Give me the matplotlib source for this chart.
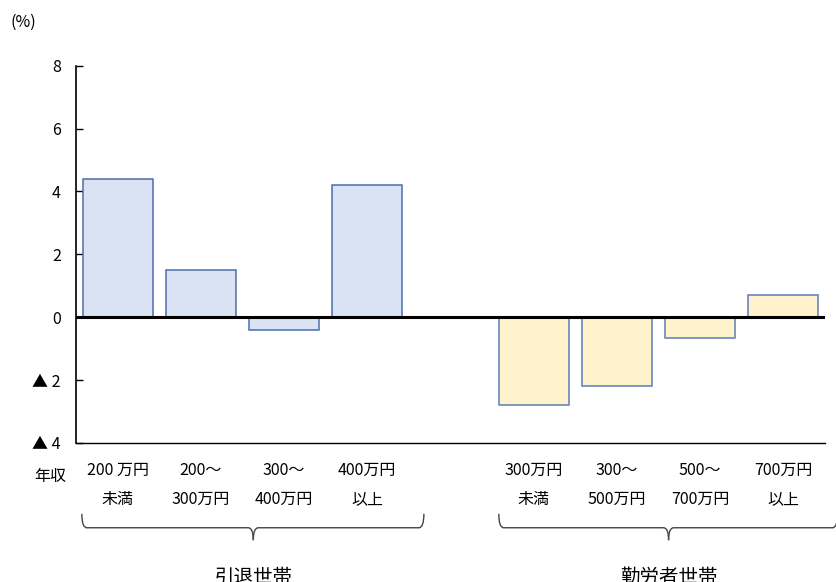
import numpy as np
import matplotlib.pyplot as plt
from matplotlib.path import Path
from matplotlib.patches import PathPatch
from matplotlib.transforms import blended_transform_factory

plt.rcParams['font.family'] = ['Noto Sans CJK JP', 'DejaVu Sans']

# income classes for each household group
retired_labels = [("200 万円", "未満"), ("200〜", "300万円"), ("300〜", "400万円"), ("400万円", "以上")]
worker_labels = [("300万円", "未満"), ("300〜", "500万円"), ("500〜", "700万円"), ("700万円", "以上")]
retired_values = [4.4, 1.5, -0.4, 4.2]
worker_values = [-2.8, -2.2, -0.65, 0.7]
group_names = ["引退世帯", "勤労者世帯"]

y_ticks = [8, 6, 4, 2, 0, -2, -4]
y_ticklabels = ["8", "6", "4", "2", "0", "▲ 2", "▲ 4"]

FS_ticks = 11.5
FS_group = 14

fig = plt.figure(figsize=(8.36, 5.82), dpi=100)
ax = fig.add_axes([0.0909, 0.239, 0.896, 0.648])

# one empty slot between the two groups
x_ret = np.arange(len(retired_values))
x_wrk = np.arange(len(worker_values)) + len(retired_values) + 1

ax.bar(x_ret, retired_values, width=0.84, color="#DAE3F3", edgecolor="#4A6DB0", linewidth=1.1, zorder=2)
ax.bar(x_wrk, worker_values, width=0.84, color="#FFF2CC", edgecolor="#5B7DB8", linewidth=1.1, zorder=2)
ax.axhline(0, color="black", linewidth=2.2, zorder=3)

ax.set_xlim(-0.5, 8.5)
ax.set_ylim(-4, 8)
ax.set_yticks(y_ticks)
ax.set_yticklabels(y_ticklabels)
ax.set_xticks([])
ax.tick_params(axis="y", direction="in", length=5, width=1, labelsize=FS_ticks, pad=11)
for s in ["top", "right"]:
    ax.spines[s].set_visible(False)
ax.spines["left"].set_linewidth(1.2)
ax.spines["bottom"].set_linewidth(1.0)

fig.text(0.012, 0.962, "(%)", fontsize=FS_ticks, va="center")

# category labels below the plot
trans = blended_transform_factory(ax.transData, ax.transAxes)
for xs, labels in [(x_ret, retired_labels), (x_wrk, worker_labels)]:
    for x, (l1, l2) in zip(xs, labels):
        ax.text(x, -0.072, l1, transform=trans, ha="center", va="center", fontsize=FS_ticks)
        ax.text(x, -0.151, l2, transform=trans, ha="center", va="center", fontsize=FS_ticks)
ax.text(-0.81, -0.088, "年収", transform=trans, ha="center", va="center", fontsize=FS_ticks)


def brace(x0, x1, xm, y_top=-0.188, y_mid=-0.225, y_tip=-0.258, r=0.06):
    # two halves of a curly bracket with rounded corners
    left = Path([(x0, y_top), (x0, y_mid), (x0 + r, y_mid), (xm - r, y_mid), (xm, y_mid), (xm, y_tip)],
                [Path.MOVETO, Path.CURVE3, Path.CURVE3, Path.LINETO, Path.CURVE3, Path.CURVE3])
    right = Path([(x1, y_top), (x1, y_mid), (x1 - r, y_mid), (xm + r, y_mid), (xm, y_mid), (xm, y_tip)],
                 [Path.MOVETO, Path.CURVE3, Path.CURVE3, Path.LINETO, Path.CURVE3, Path.CURVE3])
    for p in (left, right):
        ax.add_patch(PathPatch(p, transform=trans, fill=False, edgecolor="#444444",
                               linewidth=1.0, clip_on=False))


brace(-0.43, 3.68, 1.63)
brace(4.58, 8.65, 6.62)

ax.text(1.63, -0.33, group_names[0], transform=trans, ha="center", va="top", fontsize=FS_group)
ax.text(6.62, -0.33, group_names[1], transform=trans, ha="center", va="top", fontsize=FS_group)

fig.savefig("out.png", dpi=100)
